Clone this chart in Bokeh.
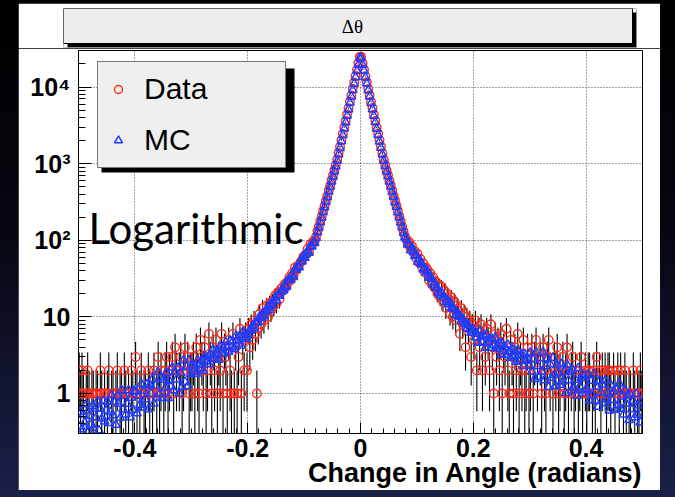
import numpy as np
from bokeh.plotting import figure
from bokeh.models import (Range1d, FixedTicker, CustomJSTickFormatter, Label,
                          BoxAnnotation, ColumnDataSource, Title)
from bokeh.layouts import column
from bokeh.embed import file_html
from bokeh.resources import INLINE

# ---------------- data ----------------
x_min, x_max, n_bins = -0.5, 0.5, 400

data_counts = [
    2, 1, 2, 1, 0, 1, 2, 1, 0, 1,
    1, 0, 1, 1, 0, 2, 1, 0, 1, 0,
    1, 2, 0, 1, 1, 0, 1, 2, 0, 1,
    1, 0, 2, 1, 0, 1, 0, 2, 1, 0,
    3, 1, 0, 1, 2, 0, 1, 1, 0, 2,
    1, 0, 1, 2, 0, 1, 3, 1, 2, 0,
    1, 2, 3, 1, 2, 0, 3, 1, 4, 2,
    0, 2, 3, 1, 2, 4, 0, 3, 1, 2,
    2, 3, 1, 4, 2, 1, 5, 3, 2, 4,
    1, 2, 6, 3, 1, 4, 2, 5, 1, 3,
    2, 6, 1, 4, 3, 1, 5, 2, 1, 6,
    1, 4, 1, 3, 7, 1, 5, 2, 6, 2,
    7, 4, 8, 5, 9, 6, 1, 7, 11, 8,
    13, 9, 11, 14, 10, 15, 12, 16, 14, 19,
    15, 21, 17, 23, 24, 22, 27, 25, 29, 33,
    30, 37, 35, 44, 41, 46, 48, 52, 55, 61,
    63, 66, 77, 71, 89, 86, 97, 98, 111, 132,
    151, 179, 206, 243, 281, 331, 379, 449, 519, 610,
    706, 826, 962, 1139, 1384, 1660, 2030, 2450, 2990, 3600,
    4400, 5290, 6470, 7780, 9520, 11480, 13950, 16870, 20590, 24780,
    24850, 20510, 16930, 13880, 11530, 9460, 7820, 6430, 5330, 4370,
    3620, 2975, 2470, 2019, 1678, 1371, 1131, 967, 821, 712,
    602, 524, 447, 381, 330, 282, 243, 205, 178, 152,
    131, 114, 104, 89, 95, 80, 84, 69, 72, 58,
    66, 51, 57, 45, 50, 38, 44, 41, 30, 37,
    27, 33, 24, 29, 20, 26, 18, 25, 16, 22,
    13, 20, 17, 11, 18, 10, 16, 9, 14, 12,
    6, 13, 8, 11, 4, 10, 7, 9, 3, 8,
    5, 9, 2, 7, 4, 8, 2, 6, 3, 7,
    5, 2, 8, 4, 1, 6, 3, 5, 2, 6,
    1, 4, 3, 7, 2, 1, 5, 3, 1, 4,
    2, 6, 1, 3, 2, 5, 1, 2, 4, 1,
    2, 4, 1, 3, 5, 2, 0, 3, 1, 4,
    2, 1, 3, 5, 2, 0, 1, 3, 2, 4,
    1, 2, 0, 3, 1, 2, 4, 1, 0, 2,
    3, 1, 2, 0, 1, 2, 3, 1, 0, 2,
    1, 2, 2, 0, 1, 2, 1, 3, 0, 2,
    1, 2, 0, 2, 1, 2, 2, 1, 0, 2,
    1, 0, 2, 1, 2, 0, 1, 2, 1, 0,
    1, 1, 0, 2, 1, 0, 1, 1, 2, 1,
]

mc_counts = [
    0.37, 0.57, 0.34, 0.53, 0.42, 0.72, 0.31, 0.51, 0.39, 0.68,
    0.36, 0.63, 0.49, 0.79, 0.33, 0.63, 0.47, 0.80, 0.43, 0.60,
    0.78, 0.41, 0.57, 0.95, 0.52, 0.78, 0.39, 0.92, 0.73, 0.48,
    1.11, 0.62, 0.93, 0.53, 0.73, 1.10, 0.49, 0.88, 0.61, 1.08,
    1.06, 0.55, 0.93, 0.71, 1.33, 0.66, 1.08, 0.84, 1.32, 0.62,
    1.28, 1.00, 1.54, 0.74, 1.27, 0.88, 1.90, 0.98, 1.61, 0.87,
    1.51, 1.18, 1.86, 0.87, 1.46, 1.23, 2.18, 1.10, 1.93, 1.52,
    2.17, 1.00, 1.84, 1.22, 2.71, 1.42, 2.23, 1.24, 2.72, 1.79,
    2.33, 1.92, 2.26, 1.81, 2.72, 2.38, 2.11, 2.71, 1.97, 3.07,
    2.60, 2.97, 2.41, 3.26, 2.84, 3.75, 2.84, 3.25, 3.67, 2.74,
    4.06, 3.37, 3.99, 3.33, 4.69, 4.01, 3.49, 4.84, 4.00, 4.79,
    3.77, 5.59, 4.96, 4.49, 5.76, 4.21, 6.36, 5.41, 6.03, 5.13,
    5.88, 6.72, 6.66, 7.66, 7.01, 8.34, 8.45, 8.54, 10.2, 9.67,
    10.9, 10.2, 11.8, 12.0, 13.7, 12.3, 14.8, 14.2, 15.9, 17.9,
    16.3, 18.8, 18.8, 21.6, 22.9, 22.4, 25.1, 24.5, 30.3, 30.3,
    30.4, 35.5, 33.1, 41.6, 41.1, 45.6, 44.5, 53.0, 52.8, 62.7,
    58.9, 65.5, 72.7, 68.6, 84.4, 82.5, 93.4, 92.0, 107, 127,
    146, 172, 198, 233, 270, 317, 366, 431, 499, 586,
    679, 795, 924, 1094, 1328, 1600, 1952, 2355, 2870, 3465,
    4225, 5100, 6210, 7500, 9130, 11030, 13420, 16240, 19720, 23850,
    23900, 19650, 16300, 13350, 11080, 9090, 7530, 6180, 5120, 4200,
    3480, 2860, 2370, 1945, 1610, 1320, 1090, 928, 791, 683,
    582, 503, 428, 370, 314, 273, 231, 200, 170, 148,
    125, 109, 103, 88.0, 86.7, 74.0, 80.6, 70.6, 62.2, 63.9,
    52.3, 57.7, 50.0, 48.7, 41.6, 43.6, 38.1, 39.7, 32.7, 32.0,
    31.2, 25.9, 27.9, 23.9, 23.8, 20.5, 19.4, 20.8, 18.2, 18.0,
    15.6, 16.5, 14.6, 15.5, 13.0, 12.8, 12.6, 10.6, 11.6, 10.1,
    10.2, 8.90, 9.43, 8.20, 8.18, 7.09, 7.81, 6.94, 6.19, 6.44,
    6.85, 5.37, 6.01, 4.59, 6.59, 5.48, 4.63, 5.68, 3.94, 5.84,
    4.70, 5.13, 3.95, 5.10, 4.24, 5.33, 3.85, 4.19, 4.52, 3.22,
    4.53, 3.59, 4.04, 3.22, 4.32, 3.51, 2.92, 3.85, 3.04, 3.47,
    2.59, 3.67, 3.10, 2.68, 3.27, 2.28, 3.28, 2.66, 2.82, 2.29,
    3.41, 1.93, 2.78, 1.54, 3.46, 2.28, 1.65, 2.89, 1.93, 3.46,
    1.49, 2.26, 2.85, 1.21, 2.41, 1.60, 2.92, 1.74, 1.25, 2.39,
    1.83, 1.30, 2.44, 1.43, 1.92, 1.01, 2.39, 1.49, 1.91, 1.09,
    2.03, 1.18, 1.51, 0.93, 2.15, 1.23, 1.59, 1.01, 1.69, 1.09,
    1.16, 1.76, 0.81, 1.46, 0.94, 1.79, 0.81, 1.23, 0.67, 1.46,
    1.03, 1.31, 0.75, 1.49, 0.84, 1.00, 0.60, 1.29, 0.82, 1.05,
    0.61, 1.14, 0.70, 1.35, 0.63, 0.91, 0.53, 1.11, 0.73, 0.94,
    0.45, 0.97, 0.62, 0.80, 0.49, 0.99, 0.53, 0.70, 0.42, 0.81,
]

x_tick_values = [-0.4, -0.2, 0.0, 0.2, 0.4]
x_tick_labels = ["-0.4", "-0.2", "0", "0.2", "0.4"]
y_tick_values = [1, 10, 100, 1000, 10000]
y_tick_labels = ["1", "10", "10\u00b2", "10\u00b3", "10\u2074"]
series_names = ["Data", "MC"]
title_text = "\u0394\u03b8"
x_axis_title = "Change in Angle (radians)"
note_text = "Logarithmic"

# ---------------- derived ----------------
y_min, y_max = 0.3, 30000.0
edges = np.linspace(x_min, x_max, n_bins + 1)
centers = 0.5 * (edges[:-1] + edges[1:])
d = np.array(data_counts, dtype=float)
m = np.array(mc_counts, dtype=float)
keep = d > 0
err = np.sqrt(d[keep])
lo = np.maximum(d[keep] - err, 1e-3)
hi = d[keep] + err
data_src = ColumnDataSource(dict(x=centers[keep], y=d[keep], lo=lo, hi=hi))
mc_src = ColumnDataSource(dict(x=centers, y=m))

# frame geometry (main figure) used to place annotations
FL, FR, FT, FB = 60, 624, 2, 385   # frame edges in main-figure pixels
OFF_X, OFF_Y = 18, 48               # main figure offset in the window


def px2x(px):
    return x_min + (px - OFF_X - FL) / (FR - FL) * (x_max - x_min)


def py2y(py):
    lmin, lmax = np.log10(y_min), np.log10(y_max)
    return 10 ** (lmin + ((FB + OFF_Y) - py) / (FB - FT) * (lmax - lmin))


# ---------------- title figure (ROOT title pave) ----------------
tfig = figure(width=642, height=45, x_range=Range1d(0, 573), y_range=Range1d(0, 39),
              output_backend="svg", toolbar_location=None, title=None,
              min_border_left=45, min_border_right=24, min_border_top=5,
              min_border_bottom=1)
tfig.frame_align = False
tfig.axis.visible = False
tfig.grid.visible = False
tfig.outline_line_color = None
tfig.background_fill_color = "white"
tfig.border_fill_color = "white"
tfig.quad(left=[4], right=[573], bottom=[0], top=[35], fill_color="black", line_color=None)
tfig.quad(left=[0], right=[569], bottom=[4], top=[39], fill_color="#eeeeee",
          line_color="black", line_width=1)
tfig.add_layout(Label(x=289, y=21.5, text=title_text, text_align="center",
                      text_baseline="middle", text_font="Liberation Serif",
                      text_font_size="19px", text_color="black"))

# ---------------- main figure ----------------
p = figure(width=642, height=442, x_range=Range1d(x_min, x_max),
           y_range=Range1d(y_min, y_max), y_axis_type="log",
           output_backend="svg", toolbar_location=None, title=None,
           min_border_left=FL, min_border_right=642 - FR, min_border_top=FT,
           min_border_bottom=442 - FB)
p.frame_align = False
p.background_fill_color = "white"
p.border_fill_color = "white"
p.outline_line_color = "black"
p.outline_line_width = 1

minor_x = [round(v, 3) for v in np.arange(-0.5, 0.5001, 0.02)]
p.xaxis.ticker = FixedTicker(ticks=x_tick_values, minor_ticks=minor_x)
p.xaxis.major_label_overrides = {v: l for v, l in zip(x_tick_values, x_tick_labels)}
minor_y = [k * 10 ** e for e in range(-1, 5) for k in range(2, 10) if y_min <= k * 10 ** e <= y_max]
p.yaxis.ticker = FixedTicker(ticks=y_tick_values, minor_ticks=minor_y)
p.yaxis.formatter = CustomJSTickFormatter(
    args=dict(vals=y_tick_values, labs=y_tick_labels),
    code="const i = vals.findIndex(v => Math.abs(v - tick) <= 1e-6 * v); return i >= 0 ? labs[i] : '';")

for ax in (p.xaxis[0], p.yaxis[0]):
    ax.axis_line_color = "black"
    ax.major_tick_line_color = "black"
    ax.minor_tick_line_color = "black"
    ax.major_tick_out = 0
    ax.minor_tick_out = 0
    ax.major_label_text_font = "Liberation Sans"
    ax.major_label_text_font_style = "bold"
    ax.major_label_text_font_size = "25px"
    ax.major_label_text_color = "black"
p.xaxis.major_tick_in = 11
p.xaxis.minor_tick_in = 5
p.yaxis.major_tick_in = 13
p.yaxis.minor_tick_in = 7
p.xaxis.major_label_standoff = 5
p.yaxis.major_label_standoff = 8

# x-axis title, right-aligned under the axis (ROOT style)
xt = Title(text=x_axis_title, align="right", text_font="Liberation Sans",
           text_font_style="bold", text_font_size="27px", text_color="black",
           standoff=-7, offset=0)
p.add_layout(xt, "below")

p.grid.grid_line_color = "#444444"
p.grid.grid_line_dash = "1 2"
p.grid.grid_line_width = 1

# legend shadow
p.add_layout(BoxAnnotation(left=px2x(101), right=px2x(294), bottom=py2y(172), top=py2y(68),
                           fill_color="black", fill_alpha=1.0, line_color=None))

p.segment(x0="x", y0="lo", x1="x", y1="hi", source=data_src, line_color="black", line_width=1.1)
p.scatter("x", "y", source=data_src, marker="circle", size=8.5, fill_color=None,
          line_color="#ff2a1a", line_width=1.4, legend_label=series_names[0])
p.scatter("x", "y", source=mc_src, marker="triangle", size=8.5, fill_color=None,
          line_color="#1f3cff", line_width=1.5, legend_label=series_names[1])

lg = p.legend[0]
lg.location = (97 - OFF_X - FL, (FB + OFF_Y) - 168)
lg.background_fill_color = "#efefef"
lg.background_fill_alpha = 1.0
lg.border_line_color = "black"
lg.border_line_width = 1
lg.label_text_font = "Liberation Sans"
lg.label_text_font_size = "30px"
lg.label_text_color = "black"
lg.padding = 10
lg.spacing = 17
lg.margin = 0
lg.glyph_width = 20
lg.glyph_height = 34
lg.label_height = 34
lg.label_standoff = 16
lg.label_width = 131

p.add_layout(Label(x=px2x(88), y=py2y(227), text=note_text, text_font="Lato",
                   text_font_size="42px", text_color="black", text_baseline="alphabetic"))

tfig.margin = (3, 15, 0, 18)
p.margin = (0, 15, 7, 18)
layout = column(tfig, p, spacing=0,
                styles={"background": "linear-gradient(to bottom, #000000 0%, #05060f 45%, #1a2048 100%)"})

open("out.html", "w").write(file_html(layout, INLINE))
